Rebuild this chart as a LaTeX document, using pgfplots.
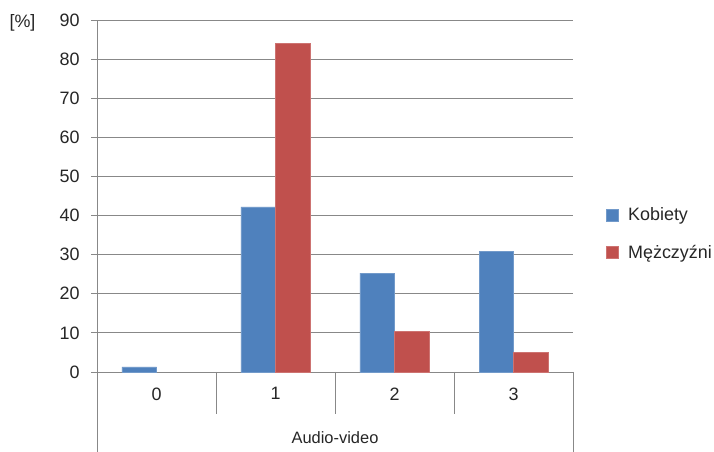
\documentclass[border=0pt]{standalone}
\usepackage{pgfplots}
\pgfplotsset{compat=1.18}
\usepackage{fontspec}
\setmainfont{Liberation Sans}
\definecolor{kob}{HTML}{4F81BD}
\definecolor{mez}{HTML}{C0504D}
\definecolor{gridc}{HTML}{888888}
\begin{document}
\begin{tikzpicture}[x=1bp,y=1bp]
\path[use as bounding box] (0,0) rectangle (714,452);
\begin{axis}[
  at={(97bp,80bp)}, anchor=south west,
  scale only axis, width=476bp, height=352bp,
  ybar=0pt, bar width=0.29,
  xmin=-0.5, xmax=3.5, ymin=0, ymax=90,
  ytick={0,10,...,90},
  xtick={0,1,2,3}, xticklabels={0,1,2,3},
  x tick style={draw=none},
  y tick style={gridc, line width=0.8pt},
  major tick length=6bp,
  tick align=outside,
  ymajorgrids, grid style={gridc, line width=0.9pt},
  axis x line*=bottom, axis y line*=left,
  axis line style={gridc, line width=0.9pt},
  xticklabel style={yshift=-6bp},
  yticklabel style={xshift=-8bp},
  /pgf/number format/assume math mode=true,
  tick label style={font=\fontsize{18}{21}\selectfont, text=black!85},
  legend style={draw=none, at={(1.065,0.393)}, anchor=west, font=\fontsize{18}{21}\selectfont, row sep=19bp, text=black!85, fill=none, inner sep=0pt},
  legend cell align=left,
  legend image code/.code={\fill[#1] (2bp,-6bp) rectangle (14bp,6bp); \path[draw=none,fill=none] (0bp,0) -- (22bp,0);},
  clip=false,
]
\addplot[fill=kob, draw=kob!80!white] coordinates {(0,1.3) (1,42.2) (2,25.3) (3,30.8)};
\addplot[fill=mez, draw=mez!80!white] coordinates {(1,84.0) (2,10.4) (3,5.1)};
\legend{Kobiety, Mężczyźni}
\draw[gridc, line width=0.9pt] (axis cs:0.5,0) -- (axis cs:0.5,-10.74);
\draw[gridc, line width=0.9pt] (axis cs:1.5,0) -- (axis cs:1.5,-10.74);
\draw[gridc, line width=0.9pt] (axis cs:2.5,0) -- (axis cs:2.5,-10.74);
\draw[gridc, line width=0.9pt] (axis cs:-0.5,0) -- (axis cs:-0.5,-20.45);
\draw[gridc, line width=0.9pt] (axis cs:3.5,0) -- (axis cs:3.5,-20.45);
\node[font=\fontsize{16.5}{19}\selectfont, text=black!85] at (axis cs:1.5,-16.9) {Audio-video};
\node[font=\fontsize{18}{21}\selectfont, text=black!85, anchor=east] at (axis cs:-0.5,90) [xshift=-58bp, yshift=-3bp] {[\%]};
\end{axis}
\end{tikzpicture}
\end{document}
